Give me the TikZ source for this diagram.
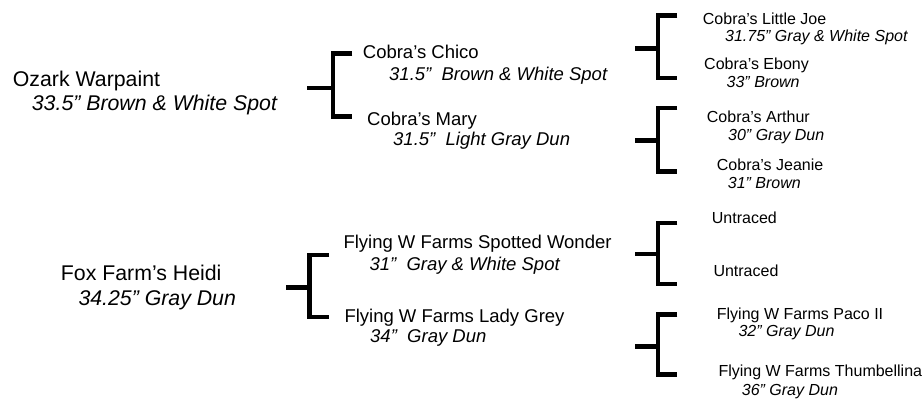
\documentclass[tikz,border=0pt]{standalone}
\usepackage{fontspec}
\setmainfont{Liberation Sans}
\usepackage{tikz}

\begin{document}
\begin{tikzpicture}[x=1pt,y=-1pt,
lv0/.style={anchor=base west,inner sep=0pt,font=\fontsize{21.3}{25}\selectfont},
lv0i/.style={lv0,font=\fontsize{21.3}{25}\selectfont\itshape},
lv1/.style={anchor=base west,inner sep=0pt,font=\fontsize{18.5}{22}\selectfont},
lv1i/.style={lv1,font=\fontsize{18.5}{22}\selectfont\itshape},
lv2/.style={anchor=base west,inner sep=0pt,font=\fontsize{16}{19}\selectfont},
lv2i/.style={lv2,font=\fontsize{16}{19}\selectfont\itshape},
brk/.style={draw=black,line width=4.5pt,line join=miter}]
\useasboundingbox (0,0) rectangle (924,399);
% first line: the two horses
\node[lv0] (ozark) at (12.7,86.7) {Ozark Warpaint};
\node[lv0i] (ozarkd) at (31.7,110) {33.5” Brown \& White Spot};
\node[lv0] (heidi) at (60.7,280.7) {Fox Farm’s Heidi};
\node[lv0i] (heidid) at (78.3,305) {34.25” Gray Dun};
% parents
\node[lv1] (chico) at (362.7,58.3) {Cobra’s Chico};
\node[lv1i] (chicod) at (389,80) {31.5”\ \ Brown \& White Spot};
\node[lv1] (mary) at (367,125) {Cobra’s Mary};
\node[lv1i] (maryd) at (393,145) {31.5”\ \ Light Gray Dun};
\node[lv1] (wonder) at (343.3,248.3) {Flying W Farms Spotted Wonder};
\node[lv1i] (wonderd) at (369.3,270) {31”\ \ Gray \& White Spot};
\node[lv1] (grey) at (344.3,322.7) {Flying W Farms Lady Grey};
\node[lv1i] (greyd) at (370,342.7) {34”\ \ Gray Dun};
% grandparents
\node[lv2] (joe) at (702.7,24) {Cobra’s Little Joe};
\node[lv2i] (joed) at (725,41.5) {31.75” Gray \& White Spot};
\node[lv2] (ebony) at (704,69) {Cobra’s Ebony};
\node[lv2i] (ebonyd) at (726.5,87) {33” Brown};
\node[lv2] (arthur) at (706.7,122) {Cobra’s Arthur};
\node[lv2i] (arthurd) at (728,140) {30” Gray Dun};
\node[lv2] (jeanie) at (716.7,170) {Cobra’s Jeanie};
\node[lv2i] (jeanied) at (727.7,188) {31” Brown};
\node[lv2] (untr1) at (711.7,223.3) {Untraced};
\node[lv2] (untr2) at (713.3,276) {Untraced};
\node[lv2] (paco) at (716.7,319) {Flying W Farms Paco II};
\node[lv2i] (pacod) at (738.3,336.7) {32” Gray Dun};
\node[lv2] (thumb) at (718.3,376.7) {Flying W Farms Thumbellina};
\node[lv2i] (thumbd) at (741.7,395) {36” Gray Dun};
% brackets
\coordinate (s1) at (307.3,88);   \coordinate (t1) at (352.3,53.3);  \coordinate (b1) at (352.3,116.7);
\coordinate (s2) at (635,48.3);   \coordinate (t2) at (677.3,15.3);  \coordinate (b2) at (677.3,78);
\coordinate (s3) at (635,140.5);  \coordinate (t3) at (677.3,108);   \coordinate (b3) at (677.3,171.3);
\coordinate (s4) at (286,287.3);  \coordinate (t4) at (329,255);     \coordinate (b4) at (329,317);
\coordinate (s5) at (635,254);    \coordinate (t5) at (677.3,223);   \coordinate (b5) at (677.3,284);
\coordinate (s6) at (635,346.7);  \coordinate (t6) at (677.3,314.7); \coordinate (b6) at (677.3,374.7);
\draw[brk] (s1) -- ++(25.7,0);
\draw[brk] (t1) -- ++(-19.3,0) |- (b1);
\draw[brk] (s2) -- ++(23,0);
\draw[brk] (t2) -- ++(-19.3,0) |- (b2);
\draw[brk] (s3) -- ++(23,0);
\draw[brk] (t3) -- ++(-19.3,0) |- (b3);
\draw[brk] (s4) -- ++(23.7,0);
\draw[brk] (t4) -- ++(-19.3,0) |- (b4);
\draw[brk] (s5) -- ++(23,0);
\draw[brk] (t5) -- ++(-19.3,0) |- (b5);
\draw[brk] (s6) -- ++(23,0);
\draw[brk] (t6) -- ++(-19.3,0) |- (b6);
\end{tikzpicture}
\end{document}
